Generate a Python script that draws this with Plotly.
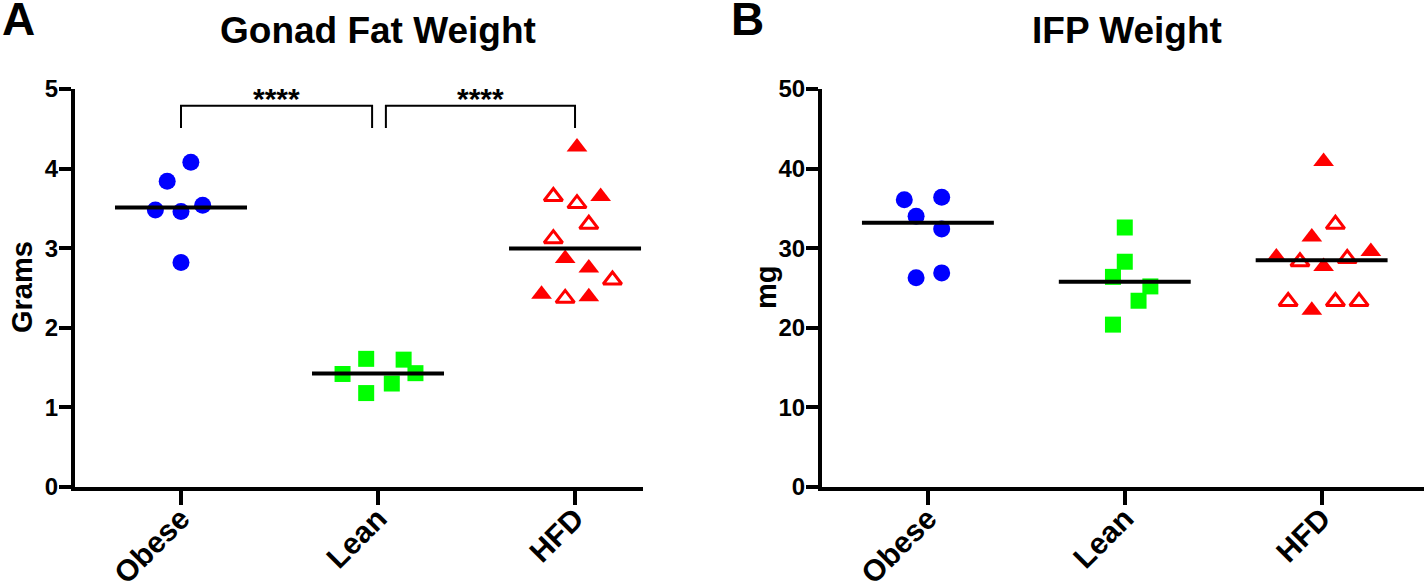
import numpy as np
import plotly.graph_objects as go

categories = ["Obese", "Lean", "HFD"]

# Panel A: Gonad fat weight (grams)
a_obese = [4.08, 3.84, 3.48, 3.46, 3.54, 2.82]
a_lean = [1.42, 1.61, 1.60, 1.43, 1.30, 1.18]
a_hfd_filled = [4.27, 3.65, 2.87, 2.75, 2.42, 2.39]
a_hfd_open = [3.65, 3.56, 3.30, 3.12, 2.60, 2.37]

# Panel B: IFP weight (mg)
b_obese = [36.1, 36.4, 34.0, 32.4, 26.3, 26.9]
b_lean = [32.6, 28.3, 26.4, 25.2, 23.4, 20.4]
b_hfd_filled = [40.9, 31.4, 28.9, 27.7, 29.6, 22.2]
b_hfd_open = [33.0, 28.3, 28.7, 23.3, 23.3, 23.3]

# horizontal scatter offsets (category units)
j_a_obese = [0.05, -0.07, -0.13, 0.0, 0.11, 0.0]
j_a_lean = [-0.18, -0.06, 0.13, 0.19, 0.07, -0.06]
j_a_hfd_filled = [0.01, 0.13, -0.05, 0.07, -0.17, 0.07]
j_a_hfd_open = [-0.11, 0.01, 0.07, -0.11, 0.19, -0.05]
j_b_obese = [-0.12, 0.07, -0.06, 0.07, -0.06, 0.07]
j_b_lean = [0.0, 0.0, -0.06, 0.13, 0.07, -0.06]
j_b_hfd_filled = [0.01, -0.05, -0.23, 0.01, 0.25, -0.05]
j_b_hfd_open = [0.07, -0.11, 0.13, -0.17, 0.07, 0.19]

FONT = "Liberation Sans, Arial, Helvetica, sans-serif"
BLUE = "#0000ff"
GREEN = "#00ff00"
RED = "#ff0000"

W, H = 1424, 583
PLOT_TOP, PLOT_BOT = 89, 487

fig = go.Figure()


def pts(vals, jit, idx, xa, ya, symbol, color, size, lw=0):
    fig.add_trace(go.Scatter(
        x=[idx + j for j in jit], y=vals, mode="markers",
        xaxis=xa, yaxis=ya, showlegend=False, hoverinfo="y",
        marker=dict(symbol=symbol, color=color, size=size,
                    line=dict(width=lw, color=color)),
        cliponaxis=False))


def median_line(vals, idx, xa, ya):
    m = float(np.median(vals))
    fig.add_trace(go.Scatter(
        x=[idx - 0.335, idx + 0.335], y=[m, m], mode="lines",
        xaxis=xa, yaxis=ya, showlegend=False, hoverinfo="skip",
        line=dict(color="black", width=4), cliponaxis=False))


# Panel A
pts(a_obese, j_a_obese, 0, "x", "y", "circle", BLUE, 17)
pts(a_lean, j_a_lean, 1, "x", "y", "square", GREEN, 16)
pts(a_hfd_filled, j_a_hfd_filled, 2, "x", "y", "triangle-up", RED, 18)
pts(a_hfd_open, j_a_hfd_open, 2, "x", "y", "triangle-up-open", RED, 16, 3)
median_line(a_obese, 0, "x", "y")
median_line(a_lean, 1, "x", "y")
median_line(a_hfd_filled + a_hfd_open, 2, "x", "y")

# Panel B
pts(b_obese, j_b_obese, 0, "x2", "y2", "circle", BLUE, 17)
pts(b_lean, j_b_lean, 1, "x2", "y2", "square", GREEN, 16)
pts(b_hfd_filled, j_b_hfd_filled, 2, "x2", "y2", "triangle-up", RED, 18)
pts(b_hfd_open, j_b_hfd_open, 2, "x2", "y2", "triangle-up-open", RED, 16, 3)
median_line(b_obese, 0, "x2", "y2")
median_line(b_lean, 1, "x2", "y2")
median_line(b_hfd_filled + b_hfd_open, 2, "x2", "y2")

xcommon = dict(
    tickmode="array", tickvals=[0, 1, 2], ticktext=categories,
    tickangle=-45, ticks="outside", ticklen=14, tickwidth=4, tickcolor="black",
    showline=True, linewidth=4, linecolor="black", showgrid=False, zeroline=False,
    tickfont=dict(family=FONT, size=30, color="black", weight="bold"),
    ticklabelstandoff=-16,
    automargin=False, fixedrange=True,
)
ycommon = dict(
    ticks="outside", ticklen=12, tickwidth=4, tickcolor="black",
    showline=True, linewidth=4, linecolor="black", showgrid=False, zeroline=False,
    tickfont=dict(family=FONT, size=24, color="black", weight="bold"),
    ticklabelstandoff=-4,
    automargin=False, fixedrange=True,
)

fig.update_layout(
    width=W, height=H,
    margin=dict(l=0, r=0, t=PLOT_TOP, b=H - PLOT_BOT),
    paper_bgcolor="white", plot_bgcolor="white",
    xaxis=dict(domain=[75 / W, 643 / W], range=[-0.538, 2.345], anchor="y", **xcommon),
    yaxis=dict(domain=[0, 1], range=[0, 5], dtick=1, anchor="x", **ycommon),
    xaxis2=dict(domain=[822 / W, 1.0], range=[-0.538, 2.52], anchor="y2", **xcommon),
    yaxis2=dict(domain=[0, 1], range=[0, 50], dtick=10, anchor="x2", **ycommon),
)


def px(xp):
    return xp / W


def py(yp):
    return (PLOT_BOT - yp) / (PLOT_BOT - PLOT_TOP)


# significance brackets (panel A)
brackets = [(0.0, 0.97), (1.04, 2.0)]
for x0, x1 in brackets:
    fig.add_shape(type="path", xref="x", yref="y",
                  path=f"M {x0},4.51 L {x0},4.79 L {x1},4.79 L {x1},4.51",
                  line=dict(color="black", width=2))
    fig.add_annotation(x=(x0 + x1) / 2, y=py(98), xref="x", yref="paper", text="****",
                       showarrow=False, xanchor="center", yanchor="middle",
                       font=dict(family=FONT, size=30, color="black", weight="bold"))

ann_font = dict(family=FONT, color="black", weight="bold")


def label(xp, yp, text, size, angle=0):
    fig.add_annotation(x=px(xp), y=py(yp), xref="paper", yref="paper",
                       text=text, showarrow=False, textangle=angle,
                       xanchor="center", yanchor="middle",
                       font=dict(size=size, **ann_font))


label(378, 31, "Gonad Fat Weight", 37)
label(1127, 31, "IFP Weight", 37)
label(18, 19, "A", 46)
label(747, 19, "B", 46)
label(22, 287, "Grams", 29, -90)
label(766, 287, "mg", 29, -90)

fig.write_html("out.html", config={"displayModeBar": False},
               post_script="document.body.style.margin='0';document.body.style.overflow='hidden';")
